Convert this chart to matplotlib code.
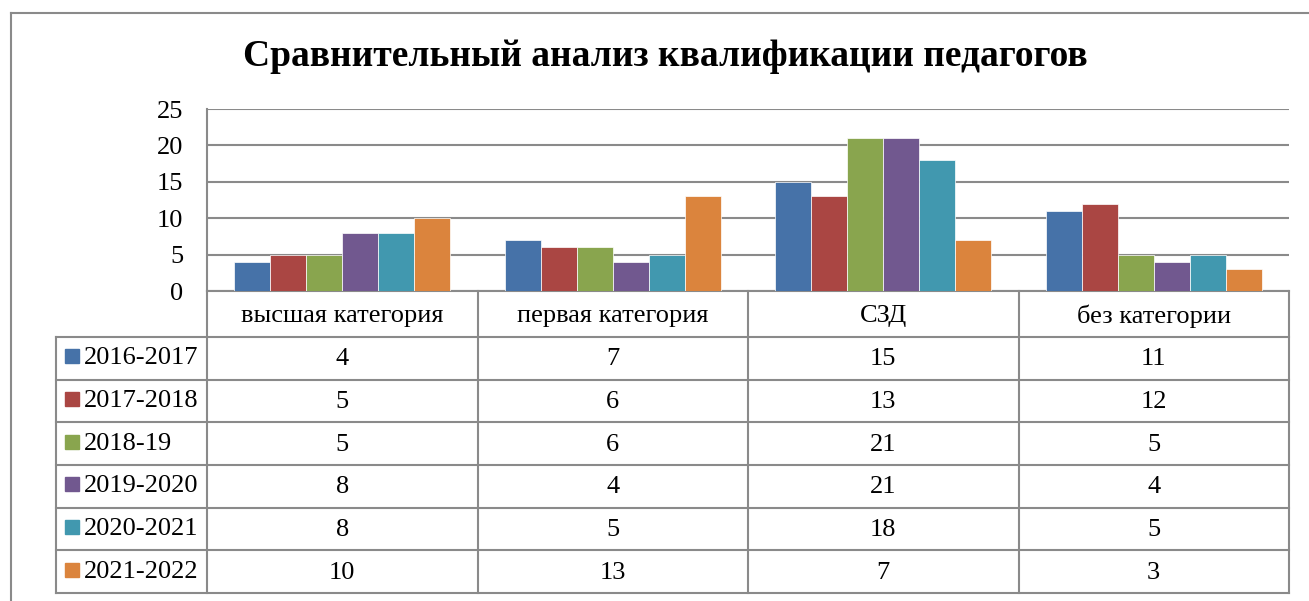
import numpy as np
import matplotlib
matplotlib.use("Agg")
import matplotlib.pyplot as plt

categories = ["высшая категория", "первая категория", "СЗД", "без категории"]
years = ["2016-2017", "2017-2018", "2018-19", "2019-2020", "2020-2021", "2021-2022"]
v2016 = [4, 7, 15, 11]
v2017 = [5, 6, 13, 12]
v2018 = [5, 6, 21, 5]
v2019 = [8, 4, 21, 4]
v2020 = [8, 5, 18, 5]
v2021 = [10, 13, 7, 3]
series = [v2016, v2017, v2018, v2019, v2020, v2021]
colors = ["#4672A8", "#AA4643", "#89A54E", "#71588F", "#4198AF", "#DB843D"]
yticks = [0, 5, 10, 15, 20, 25]

plt.rcParams['font.family'] = ['Liberation Serif', 'DejaVu Serif']

W, H = 1309, 601
fig = plt.figure(figsize=(W / 100, H / 100), dpi=100)
grid = "#8a8a8a"

# layout in pixels
left, right = 207, 1289
top, base = 109, 291
head_bot = 337
row_h = (593 - head_bot) / len(years)
leg_left = 56

# overlay for frame/table (pixel coords)
ov = fig.add_axes([0, 0, 1, 1])
ov.set_xlim(0, W)
ov.set_ylim(H, 0)
ov.axis('off')

# bar axes
ax = fig.add_axes([left / W, (H - base) / H, (right - left) / W, (base - top) / H])
ax.set_xlim(0, len(categories))
ax.set_ylim(0, 25)
n = len(series)
bw = 0.8 / n
x = np.arange(len(categories)) + 0.5
for i, (vals, c) in enumerate(zip(series, colors)):
    ax.bar(x - 0.4 + bw * (i + 0.5), vals, bw, color=c, edgecolor='white', linewidth=0.5, zorder=3)
ax.set_yticks(yticks)
ax.set_yticklabels([str(t) for t in yticks], fontsize=19)
ax.tick_params(axis='y', length=0, pad=17)
ax.set_xticks([])
ax.yaxis.grid(True, color=grid, linewidth=1.5, zorder=0)
for s in ['top', 'right', 'bottom']:
    ax.spines[s].set_visible(False)
ax.spines['left'].set_color(grid)
ax.spines['left'].set_linewidth(1.5)
ax.patch.set_alpha(0)

# outer frame
ov.plot([11, 11], [H, 13], color=grid, lw=1.5)
ov.plot([11, W], [13, 13], color=grid, lw=1.5)

ov.text(665, 57, "Сравнительный анализ квалификации педагогов", ha='center', va='center',
        fontsize=27, fontweight='bold')

# data table
col_w = (right - left) / len(categories)
bottom = head_bot + row_h * len(years)
ov.plot([left, right], [base, base], color=grid, lw=1.5)
for k in range(len(categories) + 1):
    xx = left + k * col_w
    ov.plot([xx, xx], [base, bottom], color=grid, lw=1.5)
ov.plot([leg_left, leg_left], [head_bot, bottom], color=grid, lw=1.5)
for r in range(len(years) + 1):
    yy = head_bot + r * row_h
    ov.plot([leg_left, right], [yy, yy], color=grid, lw=1.5)

for k, cat in enumerate(categories):
    ov.text(left + (k + 0.5) * col_w, (base + head_bot) / 2 + 2, cat, ha='center', va='center', fontsize=19)

for r, (yr, vals, c) in enumerate(zip(years, series, colors)):
    cy = head_bot + (r + 0.5) * row_h
    ov.add_patch(plt.Rectangle((65, cy - 9), 14, 14, color=c))
    ov.text(84, cy, yr, ha='left', va='center', fontsize=19)
    for k, v in enumerate(vals):
        ov.text(left + (k + 0.5) * col_w, cy + 1, str(v), ha='center', va='center', fontsize=19)

fig.savefig("out.png", dpi=100)
